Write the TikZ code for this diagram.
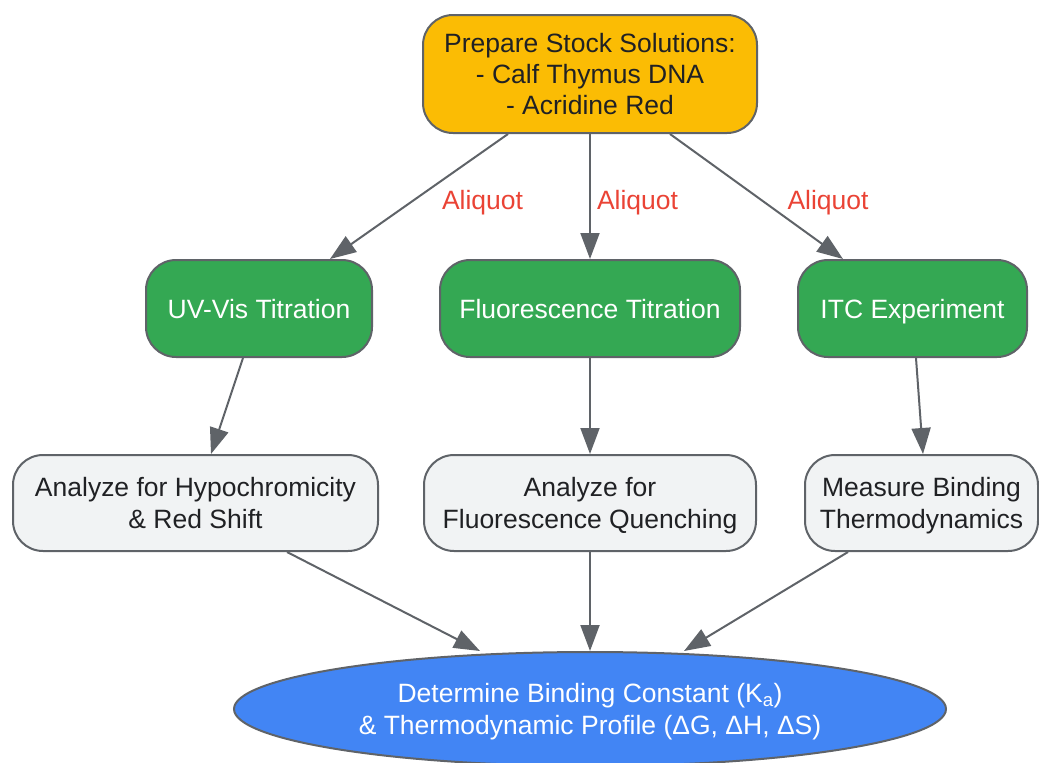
\documentclass[tikz,border=0pt]{standalone}
\usepackage{fontspec}
\setmainfont{Liberation Sans}
\usetikzlibrary{arrows.meta,shapes.geometric,positioning}
\definecolor{gyellow}{HTML}{FBBC04}
\definecolor{ggreen}{HTML}{34A853}
\definecolor{gblue}{HTML}{4285F4}
\definecolor{glight}{HTML}{F1F3F4}
\definecolor{gborder}{HTML}{5F6368}
\definecolor{gred}{HTML}{EA4335}
\definecolor{gtext}{HTML}{202124}
\begin{document}
\begin{tikzpicture}[x=1pt,y=-1pt,
        every node/.style={font=\fontsize{26.5}{32}\selectfont, align=center, inner sep=0pt, text depth=0pt},
        box/.style={draw=gborder, line width=2pt, rounded corners=30pt},
        stockbox/.style={box, fill=gyellow, text=gtext, minimum width=334pt, minimum height=118pt,
            font=\fontsize{26.5}{31}\selectfont},
        titrbox/.style={box, fill=ggreen, text=white, minimum height=97pt},
        analbox/.style={box, fill=glight, text=gtext, minimum height=96pt},
        resultell/.style={ellipse, draw=gborder, line width=2pt, fill=gblue, text=white,
            minimum width=712pt, minimum height=114pt},
        arr/.style={draw=gborder, line width=2pt, -{Triangle[length=26pt,width=19pt]}},
        lbl/.style={text=gred, yshift=-3pt}]
        \useasboundingbox (0,0) rectangle (1039,763);

        \node[stockbox] (stock) at (590,74) {Prepare Stock Solutions:\\- Calf Thymus DNA\\- Acridine Red};

        \node[titrbox, minimum width=226pt] (uvvis) at (259,308.5) {UV-Vis Titration};
        \node[titrbox, minimum width=300pt] (fluor) at (590,308.5) {Fluorescence Titration};
        \node[titrbox, minimum width=229pt] (itc) at (912.5,308.5) {ITC Experiment};

        \node[analbox, minimum width=365pt] (hypo) at (195.5,503) {Analyze for Hypochromicity\\\& Red Shift};
        \node[analbox, minimum width=332pt] (quench) at (590,503) {Analyze for\\Fluorescence Quenching};
        \node[analbox, minimum width=233pt] (thermo) at (921.5,503) {Measure Binding\\Thermodynamics};

        \node[resultell] (binding) at (590,709) {Determine Binding Constant (K\textsubscript{a})\\\& Thermodynamic Profile (ΔG, ΔH, ΔS)};

        \draw[arr] ([xshift=-82pt]stock.south) -- node[lbl, midway, right=22pt] {Aliquot} ([xshift=71pt]uvvis.north);
        \draw[arr] (stock.south) -- node[lbl, midway, right=6pt] {Aliquot} (fluor.north);
        \draw[arr] ([xshift=80pt]stock.south) -- node[lbl, midway, right=30pt] {Aliquot} ([xshift=-69.5pt]itc.north);

        \draw[arr] ([xshift=-16pt]uvvis.south) -- ([xshift=15.5pt]hypo.north);
        \draw[arr] (fluor.south) -- (quench.north);
        \draw[arr] ([xshift=3.5pt]itc.south) -- ([xshift=1.5pt]thermo.north);

        \draw[arr] ([xshift=91.5pt]hypo.south) -- ([xshift=-110pt]binding.north);
        \draw[arr] (quench.south) -- (binding.north);
        \draw[arr] ([xshift=-73.5pt]thermo.south) -- ([xshift=94pt]binding.north);
    \end{tikzpicture}
\end{document}
